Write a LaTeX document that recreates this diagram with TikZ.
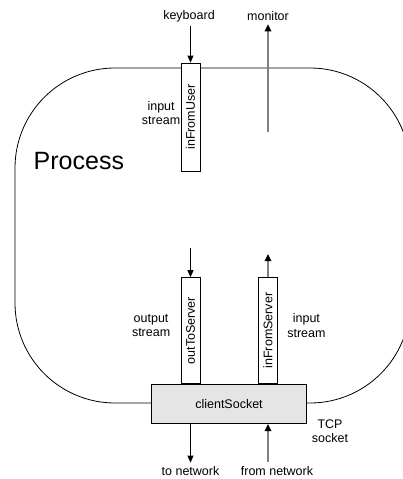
\documentclass[tikz,border=0pt]{standalone}
\usepackage{fontspec}
\setmainfont{Liberation Sans}
\usetikzlibrary{positioning,arrows.meta}

\begin{document}
\begin{tikzpicture}[x=1pt,y=-1pt,line width=0.8pt,
    >={Triangle[length=7pt,width=6pt]},
    every node/.style={font=\fontsize{12.5}{14.5}\selectfont},
    stream box/.style={draw,fill=white,minimum width=19pt,minimum height=106pt,inner sep=0pt},
    socket box/.style={draw,line width=1pt,fill=gray!20,minimum width=155pt,minimum height=39pt,inner sep=0pt},
    lbl/.style={align=center,inner sep=0pt},
    gray flow/.style={-{Triangle[length=7pt,width=6.5pt,color=black]},draw=gray,line width=1.6pt}]

  \useasboundingbox (0,0) rectangle (403,479);

  % the process
  \draw[rounded corners=100pt] (15,68) rectangle (410,403);
  \node[font=\fontsize{25}{30}\selectfont,anchor=west] (process) at (30,161) {Process};

  % keyboard side
  \node[stream box,minimum height=108pt] (inFromUser) at (190.5,117) {\rotatebox{90}{inFromUser}};
  \node[lbl,left=0pt of inFromUser,yshift=4pt] (userlbl) {input\\stream};
  \node (keyboard) at (189,16) {keyboard};
  \node (monitor) at (268,16) {monitor};
  \coordinate (mon) at (268,132);

  \draw[->] (keyboard.south -| inFromUser) -- (inFromUser.north);
  \draw[gray flow] (mon) -- (mon |- monitor.south);

  % socket side
  \node[socket box] (clientSocket) at (229,404) {clientSocket};
  \node[stream box,anchor=south] (outToServer) at (190.5,384) {\rotatebox{90}{outToServer}};
  \node[stream box,anchor=south] (inFromServer) at (268,384) {\rotatebox{90}{inFromServer}};
  \node[lbl,left=10pt of outToServer,yshift=5pt] (outlbl) {output\\stream};
  \node[lbl,right=9pt of inFromServer,yshift=5pt] (inlbl) {input\\stream};
  \node[lbl] (tcp) at (330,431) {TCP\\socket};
  \node (tonet) at (190.5,471) {to network};
  \node (fromnet) at (277,471) {from network};
  \coordinate (outsrc) at (190.5,248);
  \coordinate (indst) at (268,254);
  \coordinate (netin) at (268,462);

  \draw[->] (outsrc) -- (outToServer.north);
  \draw[gray flow] (inFromServer.north) -- (indst);
  \draw[->] (clientSocket.south -| tonet) -- (tonet.north);
  \draw[gray flow] (netin) -- (netin |- clientSocket.south);
\end{tikzpicture}
\end{document}
